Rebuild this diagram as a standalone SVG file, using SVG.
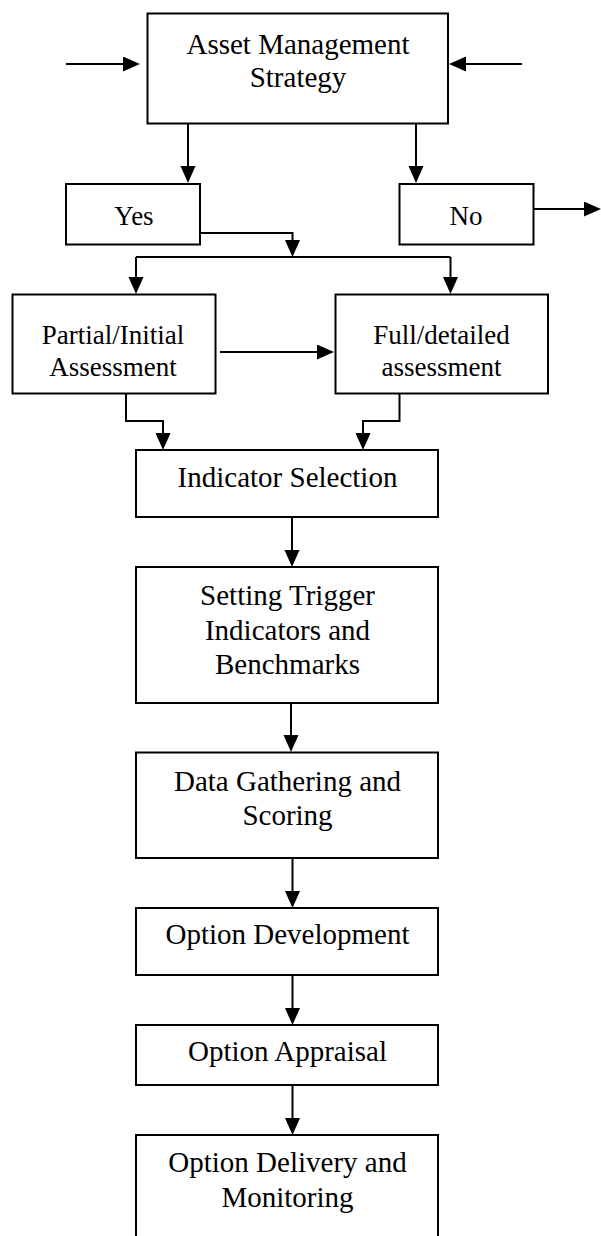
<svg xmlns="http://www.w3.org/2000/svg" width="601" height="1236" viewBox="0 0 601 1236">
  <defs>
    <marker id="arrow" markerUnits="userSpaceOnUse" markerWidth="18" markerHeight="16" refX="11" refY="7.5" orient="auto">
      <path d="M0,0 L17,7.5 L0,15 Z" fill="#000"/>
    </marker>
    <style>
      .box { fill: #fff; stroke: #000; stroke-width: 2; }
      .lbl { font-family: "Liberation Serif", "Times New Roman", serif; font-size: 29px; fill: #000; text-anchor: middle; }
      .sm { font-size: 27px; }
      .wire { fill: none; stroke: #000; stroke-width: 2; }
      .arr { fill: none; stroke: #000; stroke-width: 2; marker-end: url(#arrow); }
    </style>
  </defs>
  <rect width="601" height="1236" fill="#fff"/>

  <!-- connectors -->
  <g id="connectors">
    <line class="arr" x1="66" y1="64" x2="134" y2="64"/>
    <line class="arr" x1="522" y1="64" x2="455" y2="64"/>
    <line class="arr" x1="188" y1="124" x2="188" y2="177"/>
    <line class="arr" x1="416" y1="124" x2="416" y2="177"/>
    <line class="arr" x1="534" y1="209" x2="595" y2="209"/>
    <polyline class="arr" points="200,233 292.5,233 292.5,251"/>
    <line class="wire" x1="136" y1="257" x2="450.5" y2="257"/>
    <line class="arr" x1="136" y1="257" x2="136" y2="288"/>
    <line class="arr" x1="450.5" y1="257" x2="450.5" y2="288"/>
    <line class="arr" x1="220" y1="352" x2="328" y2="352"/>
    <polyline class="arr" points="126,394 126,421 163,421 163,444"/>
    <polyline class="arr" points="399.5,394 399.5,421 363,421 363,444"/>
    <line class="arr" x1="292" y1="517" x2="292" y2="561"/>
    <line class="arr" x1="291" y1="703" x2="291" y2="746"/>
    <line class="arr" x1="292.5" y1="858" x2="292.5" y2="902"/>
    <line class="arr" x1="292.5" y1="975" x2="292.5" y2="1019"/>
    <line class="arr" x1="292.5" y1="1085" x2="292.5" y2="1129"/>
  </g>

  <g id="strategy">
    <rect class="box" x="147.5" y="13.5" width="300.5" height="110"/>
    <text class="lbl" x="298" y="54">Asset Management</text>
    <text class="lbl" x="298" y="87">Strategy</text>
  </g>
  <g id="yes">
    <rect class="box" x="66" y="184" width="134" height="60.5"/>
    <text class="lbl sm" x="134" y="225">Yes</text>
  </g>
  <g id="no">
    <rect class="box" x="399.5" y="184" width="134" height="60.5"/>
    <text class="lbl sm" x="466" y="225">No</text>
  </g>
  <g id="partial">
    <rect class="box" x="12.5" y="294.5" width="203" height="99"/>
    <text class="lbl sm" x="113" y="344">Partial/Initial</text>
    <text class="lbl sm" x="113" y="376">Assessment</text>
  </g>
  <g id="full">
    <rect class="box" x="335.5" y="294.5" width="212.5" height="99"/>
    <text class="lbl sm" x="441.5" y="344">Full/detailed</text>
    <text class="lbl sm" x="441.5" y="376">assessment</text>
  </g>
  <g id="indicator">
    <rect class="box" x="136" y="450" width="302" height="67"/>
    <text class="lbl" x="287.5" y="487">Indicator Selection</text>
  </g>
  <g id="trigger">
    <rect class="box" x="136" y="567" width="302" height="136"/>
    <text class="lbl" x="287.5" y="605">Setting Trigger</text>
    <text class="lbl" x="287.5" y="639.5">Indicators and</text>
    <text class="lbl" x="287.5" y="674">Benchmarks</text>
  </g>
  <g id="data">
    <rect class="box" x="136" y="752.5" width="302" height="105.5"/>
    <text class="lbl" x="287.5" y="791">Data Gathering and</text>
    <text class="lbl" x="287.5" y="825">Scoring</text>
  </g>
  <g id="development">
    <rect class="box" x="136" y="908" width="302" height="67"/>
    <text class="lbl" x="287.5" y="944">Option Development</text>
  </g>
  <g id="appraisal">
    <rect class="box" x="136" y="1025" width="302" height="60"/>
    <text class="lbl" x="287.5" y="1061">Option Appraisal</text>
  </g>
  <g id="delivery">
    <rect class="box" x="136" y="1135" width="302" height="110"/>
    <text class="lbl" x="287.5" y="1172">Option Delivery and</text>
    <text class="lbl" x="287.5" y="1207">Monitoring</text>
  </g>
</svg>
